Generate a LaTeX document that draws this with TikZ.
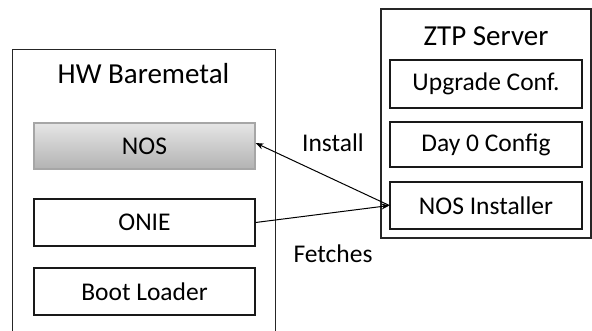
\documentclass[tikz,border=0pt]{standalone}
\usepackage{fontspec}
\setmainfont{Carlito}
\usetikzlibrary{arrows.meta}
\tikzset{
  container/.style={draw=black!85, line width=1.1pt, fill=white, inner sep=0pt},
  item/.style={draw=black!90, line width=1.2pt, fill=white, minimum width=192pt, inner sep=0pt, font=\fontsize{25.5}{29}\selectfont},
  hwitem/.style={item, minimum width=221pt, minimum height=47pt},
  heading/.style={font=\fontsize{29}{33}\selectfont, inner sep=0pt},
  lbl/.style={font=\fontsize{25.5}{29}\selectfont, inner sep=0pt},
  arr/.style={line width=1pt, -{Stealth[length=8pt,width=6pt]}}
}
\begin{document}
\begin{tikzpicture}[x=1pt,y=-1pt]
\useasboundingbox (0,0) rectangle (592,331);
\clip (0,0) rectangle (592,331);
\node[container, anchor=north west, minimum width=263pt, minimum height=300pt] (hw) at (12,49) {};
\node[heading] (hwt) at (143.5,74) {HW Baremetal};
\node[hwitem, draw=black!35, shade, top color=black!10, bottom color=black!30, minimum height=46pt] (nos) at (144.5,146) {NOS};
\node[hwitem] (onie) at (144.5,222.5) {ONIE};
\node[hwitem] (boot) at (144.5,291.5) {Boot Loader};
\node[container, minimum width=210pt, minimum height=229pt] (ztp) at (486,123.5) {};
\node[heading] (ztpt) at (486,36) {ZTP Server};
\node[item, minimum height=48pt] (upg) at (486,84) {Upgrade Conf.};
\node[item, minimum height=45pt] (day0) at (486,144.5) {Day 0 Config};
\node[item, minimum height=47pt] (inst) at (486,205.5) {NOS Installer};
\node[lbl] (linst) at (333,143) {Install};
\node[lbl] (lfetch) at (333,254) {Fetches};
\draw[arr] (inst.west) -- ([yshift=3pt]nos.east);
\draw[arr] (onie.east) -- (inst.west);
\end{tikzpicture}
\end{document}
